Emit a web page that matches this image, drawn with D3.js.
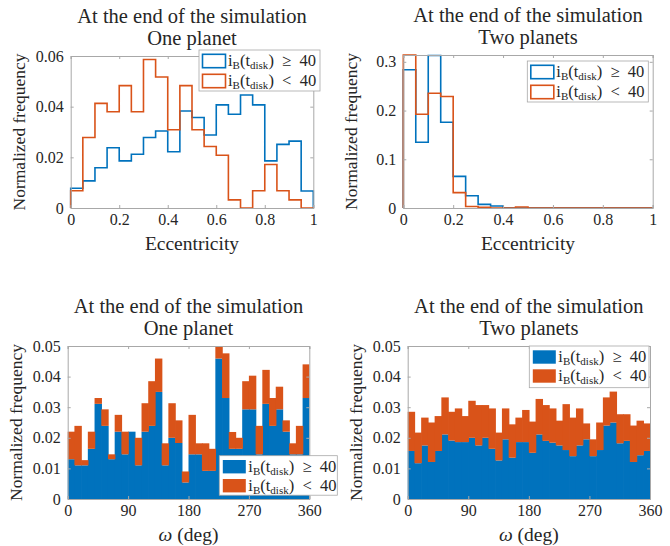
<!DOCTYPE html>
<html>
<head>
<meta charset="utf-8">
<script src="https://cdn.jsdelivr.net/npm/d3@7"></script>
<style>
  body { margin: 0; background: #fff; }
  text { font-family: "Liberation Serif", serif; fill: #262626; }
</style>
</head>
<body>
<div id="chart"></div>
<script>
// ---- data ----
// eccentricity histograms, bins of 0.05 from 0 to 1
const eccEdges = d3.range(21).map(i => i * 0.05);
const ecc1High = [0.0078, 0.0107, 0.0159, 0.0238, 0.0186, 0.0212, 0.0278, 0.0304, 0.0222, 0.0383,
                  0.0357, 0.0288, 0.0407, 0.0370, 0.0446, 0.0407, 0.0186, 0.0251, 0.0264, 0.0067];
const ecc1Low  = [0.0068, 0.0278, 0.0413, 0.0380, 0.0483, 0.0380, 0.0586, 0.0517, 0.0309, 0.0483,
                  0.0309, 0.0243, 0.0208, 0.0032, 0.0000, 0.0068, 0.0172, 0.0068, 0.0032, 0.0000];
const ecc2High = [0.2836, 0.1350, 0.3130, 0.1760, 0.0650, 0.0250, 0.0075, 0.0040, 0, 0,
                  0, 0, 0, 0, 0, 0, 0, 0, 0, 0];
const ecc2Low  = [0.3140, 0.1925, 0.2356, 0.2288, 0.0315, 0.0030, 0.0014, 0.0000, 0, 0.0020,
                  0, 0, 0, 0, 0, 0, 0, 0, 0, 0];

// argument of pericentre histograms, bins of 10 deg from 0 to 360 (stacked)
const omegaEdges = d3.range(37).map(i => i * 10);
const om1High = [0.0130, 0.0110, 0.0110, 0.0164, 0.0311, 0.0239, 0.0130, 0.0220, 0.0146, 0.0220,
                 0.0110, 0.0220, 0.0239, 0.0350, 0.0110, 0.0200, 0.0183, 0.0054, 0.0146, 0.0146,
                 0.0092, 0.0092, 0.0459, 0.0330, 0.0164, 0.0164, 0.0293, 0.0293, 0.0146, 0.0311,
                 0.0239, 0.0293, 0.0220, 0.0146, 0.0146, 0.0330];
const om1Low  = [0.0090, 0.0129, 0.0017, 0.0056, 0.0019, 0.0054, 0.0016, 0.0055, 0.0074, 0.0000,
                 0.0090, 0.0093, 0.0146, 0.0109, 0.0072, 0.0113, 0.0074, 0.0036, 0.0129, 0.0036,
                 0.0090, 0.0072, 0.0039, 0.0146, 0.0055, 0.0036, 0.0092, 0.0110, 0.0093, 0.0111,
                 0.0091, 0.0074, 0.0037, 0.0036, 0.0093, 0.0110];
const om2High = [0.0157, 0.0117, 0.0175, 0.0121, 0.0157, 0.0211, 0.0191, 0.0186, 0.0186, 0.0200,
                 0.0175, 0.0200, 0.0164, 0.0126, 0.0195, 0.0135, 0.0186, 0.0186, 0.0151, 0.0211,
                 0.0190, 0.0184, 0.0175, 0.0160, 0.0140, 0.0175, 0.0195, 0.0140, 0.0160, 0.0240,
                 0.0250, 0.0182, 0.0190, 0.0121, 0.0143, 0.0157];
const om2Low  = [0.0128, 0.0100, 0.0091, 0.0129, 0.0114, 0.0121, 0.0094, 0.0110, 0.0085, 0.0121,
                 0.0132, 0.0107, 0.0132, 0.0091, 0.0101, 0.0109, 0.0080, 0.0105, 0.0102, 0.0116,
                 0.0117, 0.0112, 0.0081, 0.0150, 0.0126, 0.0121, 0.0052, 0.0055, 0.0090, 0.0092,
                 0.0101, 0.0095, 0.0087, 0.0119, 0.0113, 0.0090];

const eccTicks = [0, 0.2, 0.4, 0.6, 0.8, 1];
const omegaTicks = [0, 90, 180, 270, 360];
const yTicksEcc1 = [0, 0.02, 0.04, 0.06];
const yTicksEcc2 = [0, 0.1, 0.2, 0.3];
const yTicksOmega = [0, 0.01, 0.02, 0.03, 0.04, 0.05];
const titles = ["At the end of the simulation", "One planet", "Two planets"];

const blue = "#0072BD", orange = "#D95319";
const axisGray = "#a8a8a8";

const svg = d3.select("#chart").append("svg")
    .attr("width", 670)
    .attr("height", 546);

const fmt = d => d === 0 ? "0" : String(d);

// one set of axes in a MATLAB-like box
function makeAxes(box, xDomain, yDomain, xTicks, yTicks, title, xLabel) {
  const x = d3.scaleLinear().domain(xDomain).range([box.left, box.right]);
  const y = d3.scaleLinear().domain(yDomain).range([box.bottom, box.top]);
  const g = svg.append("g");
  const marks = g.append("g");

  const fr = g.append("g");
  fr.append("g").attr("transform", `translate(0,${box.bottom})`)
    .call(d3.axisBottom(x).tickValues(xTicks).tickFormat(fmt).tickSize(-3).tickPadding(6));
  fr.append("g").attr("transform", `translate(0,${box.top})`)
    .call(d3.axisTop(x).tickValues(xTicks).tickFormat("").tickSize(-3));
  fr.append("g").attr("transform", `translate(${box.left},0)`)
    .call(d3.axisLeft(y).tickValues(yTicks).tickFormat(fmt).tickSize(-3).tickPadding(7));
  fr.append("g").attr("transform", `translate(${box.right},0)`)
    .call(d3.axisRight(y).tickValues(yTicks).tickFormat("").tickSize(-3));
  fr.selectAll(".domain, .tick line").attr("stroke", axisGray);
  fr.selectAll(".tick text").attr("font-family", "Liberation Serif")
    .attr("font-size", 16).attr("fill", "#262626");

  const cx = (box.left + box.right) / 2;
  g.append("text").attr("x", cx).attr("y", box.top - 33.5)
    .attr("text-anchor", "middle").attr("font-size", 20.5).text(titles[0]);
  g.append("text").attr("x", cx).attr("y", box.top - 11)
    .attr("text-anchor", "middle").attr("font-size", 20.5).text(title);

  const xl = g.append("text").attr("x", cx).attr("y", box.bottom + 42)
    .attr("text-anchor", "middle").attr("font-size", 19.5);
  xLabel(xl);

  g.append("text")
    .attr("transform", `translate(${box.left - 46},${(box.top + box.bottom) / 2}) rotate(-90)`)
    .attr("text-anchor", "middle").attr("font-size", 17.5).text("Normalized frequency");

  return { x, y, g, marks };
}

function stairs(ax, edges, values, color) {
  const pts = [[edges[0], 0]];
  values.forEach((v, i) => { pts.push([edges[i], v]); pts.push([edges[i + 1], v]); });
  pts.push([edges[edges.length - 1], 0]);
  ax.marks.append("path")
    .attr("d", d3.line().x(d => ax.x(d[0])).y(d => ax.y(d[1]))(pts))
    .attr("fill", "none")
    .attr("stroke", color)
    .attr("stroke-width", 1.6);
}

function stacked(ax, edges, high, low) {
  const rows = high.map((h, i) => ({ i, high: h, low: low[i] }));
  const series = d3.stack().keys(["high", "low"])(rows);
  ax.marks.selectAll("g.layer").data(series).join("g")
    .attr("fill", (d, k) => k === 0 ? blue : orange)
    .selectAll("rect").data(d => d).join("rect")
    .attr("x", d => ax.x(edges[d.data.i]))
    .attr("width", d => ax.x(edges[d.data.i + 1]) - ax.x(edges[d.data.i]) + (d.data.i < high.length - 1 ? 0.7 : 0))
    .attr("y", d => ax.y(d[1]))
    .attr("height", d => ax.y(d[0]) - ax.y(d[1]));
}

function legendText(t, rel) {
  t.append("tspan").text("i");
  t.append("tspan").attr("font-size", 11).attr("dy", 3).text("B");
  t.append("tspan").attr("dy", -3).text("(t");
  t.append("tspan").attr("font-size", 11).attr("dy", 3).text("disk");
  t.append("tspan").attr("dy", -3).text(")\u2002" + rel + "\u200240");
}

function legend(box, filled) {
  const g = svg.append("g");
  g.append("rect").attr("x", box.x).attr("y", box.y).attr("width", box.w).attr("height", box.h)
    .attr("fill", "#fff").attr("stroke", axisGray).attr("stroke-width", 0.8);
  [[blue, "\u2265"], [orange, "<"]].forEach(([c, rel], k) => {
    const ry = box.y + 4.3 + k * box.step;
    g.append("rect").attr("x", box.x + 3.5).attr("y", ry)
      .attr("width", 23).attr("height", 13.4)
      .attr("fill", filled ? c : "#fff")
      .attr("stroke", c).attr("stroke-width", filled ? 0 : 1.6);
    const t = g.append("text").attr("x", box.x + 29).attr("y", ry + 11.8)
      .attr("font-size", 16.5);
    legendText(t, rel);
  });
}

// ---- top left: eccentricity, one planet ----
const ax1 = makeAxes({ left: 70.7, right: 313.3, top: 56, bottom: 208 }, [0, 1], [0, 0.06],
  eccTicks, yTicksEcc1, titles[1], t => t.text("Eccentricity"));
stairs(ax1, eccEdges, ecc1High, blue);
stairs(ax1, eccEdges, ecc1Low, orange);
legend({ x: 199, y: 50, w: 121, h: 41, step: 20 }, false);

// ---- top right: eccentricity, two planets ----
const ax2 = makeAxes({ left: 403.3, right: 652.7, top: 55, bottom: 208 }, [0, 1], [0, 0.314],
  eccTicks, yTicksEcc2, titles[2], t => t.text("Eccentricity"));
stairs(ax2, eccEdges, ecc2High, blue);
stairs(ax2, eccEdges, ecc2Low, orange);
legend({ x: 527.3, y: 61, w: 121, h: 41, step: 20 }, false);

// ---- bottom left: omega, one planet ----
const omegaLabel = t => {
  t.append("tspan").attr("font-style", "italic").text("\u03c9");
  t.append("tspan").text(" (deg)");
};
const ax3 = makeAxes({ left: 67.7, right: 309.3, top: 346, bottom: 499 }, [0, 360], [0, 0.05],
  omegaTicks, yTicksOmega, titles[1], omegaLabel);
stacked(ax3, omegaEdges, om1High, om1Low);
legend({ x: 219.3, y: 455.7, w: 118, h: 39.5, step: 19 }, true);

// ---- bottom right: omega, two planets ----
const ax4 = makeAxes({ left: 407.7, right: 650, top: 346, bottom: 499 }, [0, 360], [0, 0.05],
  omegaTicks, yTicksOmega, titles[2], omegaLabel);
stacked(ax4, omegaEdges, om2High, om2Low);
legend({ x: 529.3, y: 346, w: 119.7, h: 41.7, step: 19 }, true);
</script>
</body>
</html>
